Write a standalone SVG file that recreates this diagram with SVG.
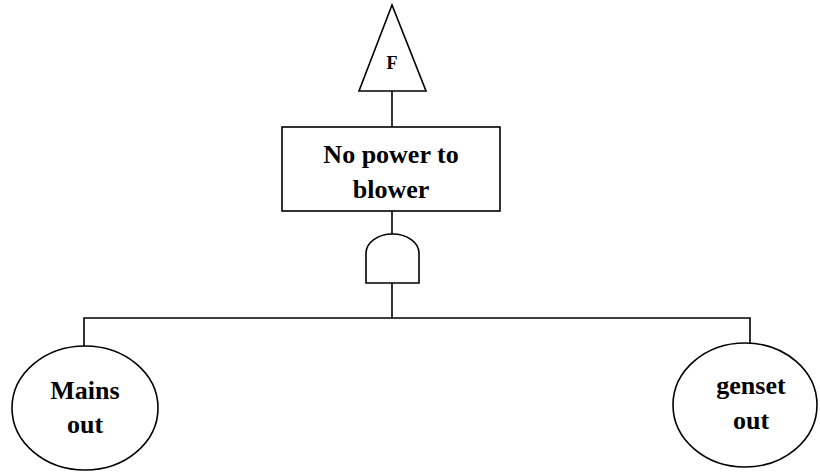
<svg xmlns="http://www.w3.org/2000/svg" width="820" height="473" viewBox="0 0 820 473">
  <style>
    .shape { fill: #ffffff; stroke: #000000; stroke-width: 1.6; }
    .wire { fill: none; stroke: #000000; stroke-width: 1.6; }
    .label { font-family: "Liberation Serif", "Times New Roman", serif; font-weight: bold; fill: #000000; text-anchor: middle; }
  </style>
  <rect x="0" y="0" width="820" height="473" fill="#ffffff"/>

  <g id="connectors">
    <line class="wire" x1="392" y1="91" x2="392" y2="127"/>
    <line class="wire" x1="392" y1="211" x2="392" y2="234"/>
    <line class="wire" x1="392" y1="283" x2="392" y2="318"/>
    <polyline class="wire" points="84,347 84,318 750,318 750,343"/>
  </g>

  <g id="transfer-F">
    <polygon class="shape" points="392,5 359,91 426,91"/>
    <text class="label" x="392" y="69" font-size="18">F</text>
  </g>

  <g id="top-event">
    <rect class="shape" x="282" y="127" width="218" height="84"/>
    <text class="label" x="391" y="163" font-size="26">No power to</text>
    <text class="label" x="391" y="198" font-size="26">blower</text>
  </g>

  <g id="and-gate">
    <path class="shape" d="M366,283 L366,253 A26.5,19 0 0 1 419,253 L419,283 Z"/>
  </g>

  <g id="mains-out">
    <ellipse class="shape" cx="85" cy="408" rx="73" ry="62"/>
    <text class="label" x="85" y="399" font-size="26">Mains</text>
    <text class="label" x="85" y="433" font-size="26">out</text>
  </g>

  <g id="genset-out">
    <ellipse class="shape" cx="745" cy="405" rx="72" ry="62"/>
    <text class="label" x="751" y="394" font-size="26">genset</text>
    <text class="label" x="751" y="429" font-size="26">out</text>
  </g>
</svg>
